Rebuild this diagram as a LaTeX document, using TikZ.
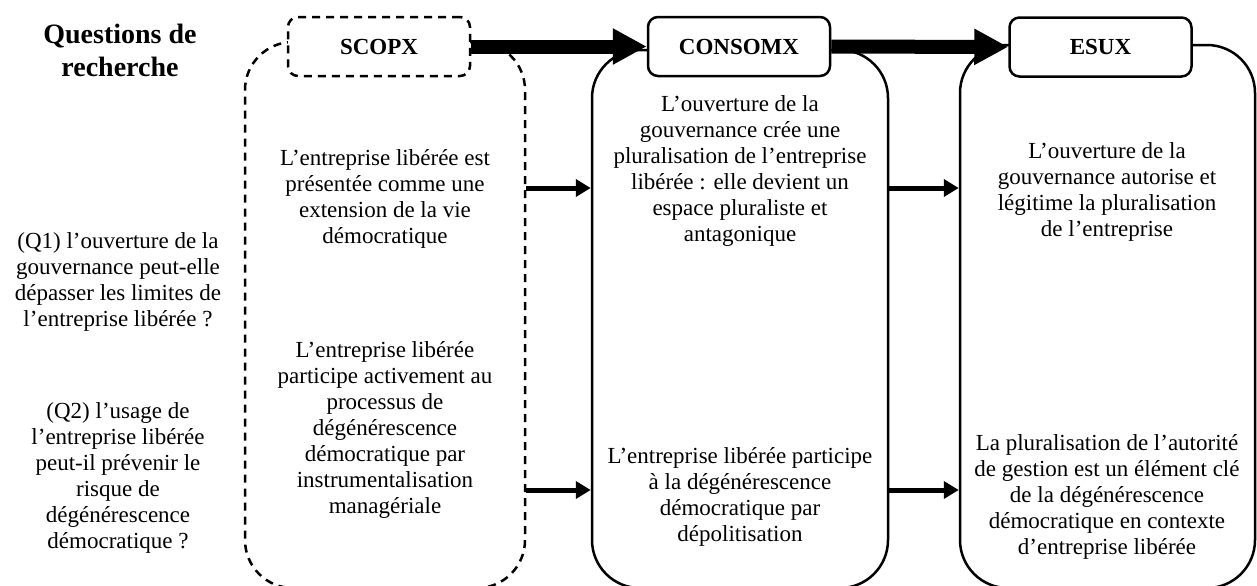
\documentclass[tikz,border=0pt]{standalone}
\usepackage{fontspec}
\setmainfont{Liberation Serif}
\usetikzlibrary{arrows.meta,positioning}

\tikzset{
  colbox/.style={draw, line width=1.25pt, rounded corners=24pt, inner sep=0pt},
  headbox/.style={draw, fill=white, line width=1.25pt, rounded corners=5pt,
    minimum width=91pt, minimum height=29.5pt, inner sep=0pt,
    font=\bfseries\fontsize{11.5}{13}\selectfont},
  txt/.style={align=center, inner sep=0pt, font=\fontsize{11.5}{13}\selectfont},
  bigarrow/.style={line width=7pt, -{Triangle[length=17pt,width=17pt]}},
  smallarrow/.style={line width=2.5pt, -{Triangle[length=7.5pt,width=8.5pt]}},
}

\begin{document}
\begin{tikzpicture}[x=0.5pt,y=-0.5pt]
    \useasboundingbox (0,0) rectangle (1257,585);
    \node[colbox, dash pattern=on 4pt off 3pt, minimum width=140pt, minimum height=273pt] (scopxcol) at (385,315) {};
    \node[colbox, minimum width=148pt, minimum height=269pt] (consomxcol) at (740,319) {};
    \node[colbox, minimum width=147.5pt, minimum height=271.5pt] (esuxcol) at (1107.5,316.5) {};

    \node[txt, font=\bfseries\fontsize{14}{16.5}\selectfont] (title) at (120,50) {Questions de\\recherche};
    \node[txt] (q1) at (118,282) {(Q1) l’ouverture de la\\gouvernance peut-elle\\dépasser les limites de\\l’entreprise libérée ?};
    \node[txt] (q2) at (118,478) {(Q2) l’usage de\\l’entreprise libérée\\peut-il prévenir le\\risque de\\dégénérescence\\démocratique ?};

    \node[txt] (scopxq1) at (385,199) {L’entreprise libérée est\\présentée comme une\\extension de la vie\\démocratique};
    \node[txt] (scopxq2) at (385,430) {L’entreprise libérée\\participe activement au\\processus de\\dégénérescence\\démocratique par\\instrumentalisation\\managériale};
    \node[txt] (consomxq1) at (740,171) {L’ouverture de la\\gouvernance crée une\\pluralisation de l’entreprise\\libérée : elle devient un\\espace pluraliste et\\antagonique};
    \node[txt] (consomxq2) at (740,497) {L’entreprise libérée participe\\à la dégénérescence\\démocratique par\\dépolitisation};
    \node[txt] (esuxq1) at (1107,192) {L’ouverture de la\\gouvernance autorise et\\légitime la pluralisation\\de l’entreprise};
    \node[txt] (esuxq2) at (1107,497) {La pluralisation de l’autorité\\de gestion est un élément clé\\de la dégénérescence\\démocratique en contexte\\d’entreprise libérée};

    \coordinate (row1) at (0,188);
    \coordinate (row2) at (0,490);
    \draw[smallarrow] (scopxcol.east |- row1) -- (consomxcol.west |- row1);
    \draw[smallarrow] (consomxcol.east |- row1) -- (esuxcol.west |- row1);
    \draw[smallarrow] (scopxcol.east |- row2) -- (consomxcol.west |- row2);
    \draw[smallarrow] (consomxcol.east |- row2) -- (esuxcol.west |- row2);

    \node[headbox, dash pattern=on 4pt off 3pt] (scopx) at (379,46.5) {SCOPX};
    \node[headbox] (consomx) at (739,46.5) {CONSOMX};
    \node[headbox] (esux) at (1100.5,47) {ESUX};
    \draw[bigarrow] (scopx) -- (consomx);
    \draw[bigarrow] (consomx) -- (esux);
\end{tikzpicture}
\end{document}
